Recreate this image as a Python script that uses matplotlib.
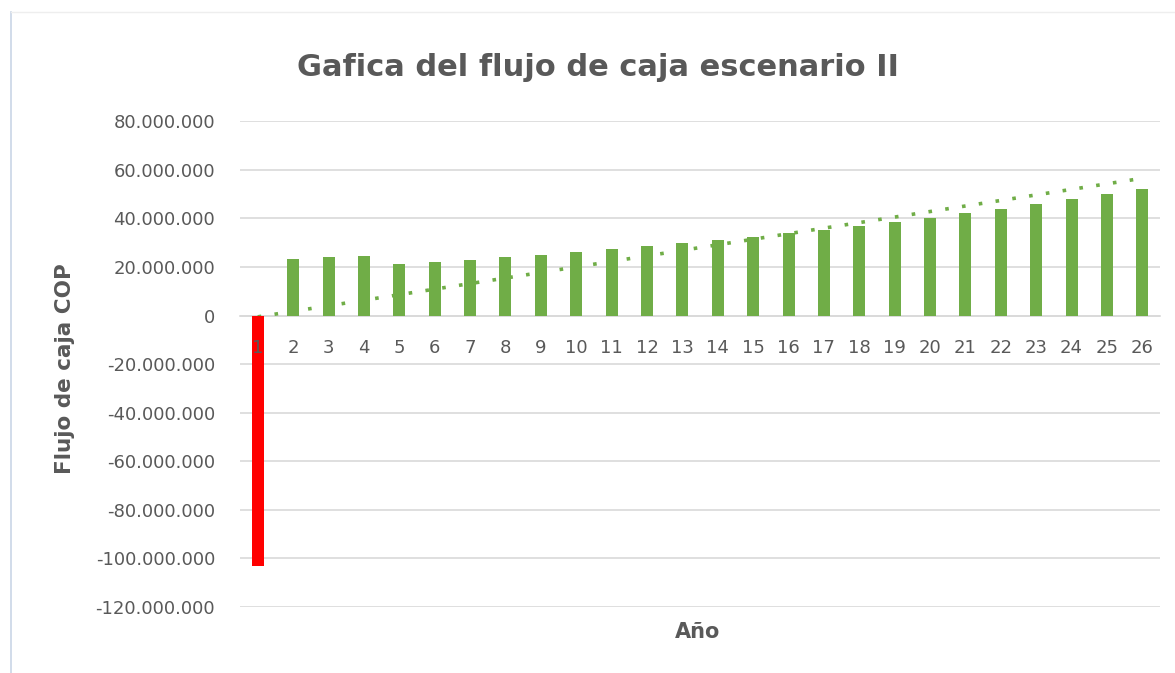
import numpy as np
import matplotlib
matplotlib.use("Agg")
import matplotlib.pyplot as plt
from matplotlib.ticker import FuncFormatter, MultipleLocator
from matplotlib.lines import Line2D

# flujo de caja por año (COP)
anios = list(range(1, 27))
flujo = [-103000000, 23300000, 24200000, 24600000, 21300000, 22100000,
         22900000, 24200000, 25000000, 26300000, 27500000, 28700000,
         29900000, 31100000, 32400000, 34000000, 35200000, 36800000,
         38500000, 40100000, 42200000, 43800000, 45900000, 48000000,
         50000000, 52100000]

titulo = "Gafica del flujo de caja escenario II"
ylabel = "Flujo de caja COP"
xlabel = "Año"

verde = "#70ad47"
rojo = "#ff0000"
gris = "#595959"
grid_col = "#d9d9d9"


def miles(v, pos):
    # separador de miles con punto
    return f"{int(round(v)):,}".replace(",", ".")


def main():
    plt.rcParams['font.family'] = ['DejaVu Sans']
    fig = plt.figure(figsize=(11.75, 6.73), dpi=100)
    ax = fig.add_axes([0.2043, 0.098, 0.7830, 0.722])

    x = np.array(anios)
    y = np.array(flujo, dtype=float)

    # linea de tendencia lineal (detras de las barras)
    m, b = np.polyfit(x, y, 1)
    ax.plot(x, m * x + b, color=verde, lw=2.6, linestyle=(0, (1, 3.7)),
            dash_capstyle='butt', zorder=1)

    colores = [rojo if v < 0 else verde for v in y]
    ax.bar(x, y, width=0.34, color=colores, zorder=2)

    ax.set_ylim(-120000000, 80000000)
    ax.set_xlim(0.5, 26.5)
    ax.yaxis.set_major_locator(MultipleLocator(20000000))
    ax.yaxis.set_major_formatter(FuncFormatter(miles))
    ax.grid(axis='y', color=grid_col, lw=1.2)
    ax.set_axisbelow(True)
    # etiquetas del eje x por encima de la barra roja
    ax.xaxis.set_zorder(5)

    for s in ['top', 'right', 'left']:
        ax.spines[s].set_visible(False)
    ax.spines['bottom'].set_position(('data', 0))
    ax.spines['bottom'].set_color(grid_col)
    ax.spines['bottom'].set_linewidth(1.2)
    ax.spines['bottom'].set_zorder(0)

    ax.set_xticks(x)
    ax.set_xticklabels([str(a) for a in anios])
    ax.tick_params(axis='x', length=0, pad=17, labelsize=13, labelcolor=gris)
    ax.tick_params(axis='y', length=0, pad=18, labelsize=13, labelcolor=gris)

    fig.text(0.509, 0.899, titulo, ha='center', va='center', fontsize=22,
             fontweight='bold', color=gris)
    fig.text(0.055, 0.452, ylabel, ha='center', va='center', rotation=90,
             fontsize=15.5, fontweight='bold', color=gris)
    fig.text(0.594, 0.061, xlabel, ha='center', va='center', fontsize=15,
             fontweight='bold', color=gris)

    # borde tenue del area del grafico
    fig.add_artist(Line2D([0.009, 0.009], [0.0, 0.982], color="#c9d6e6", lw=1.2))
    fig.add_artist(Line2D([0.009, 1.0], [0.982, 0.982], color="#eeeeee", lw=1.0))

    plt.savefig('out.png', dpi=100)


if __name__ == "__main__":
    main()
